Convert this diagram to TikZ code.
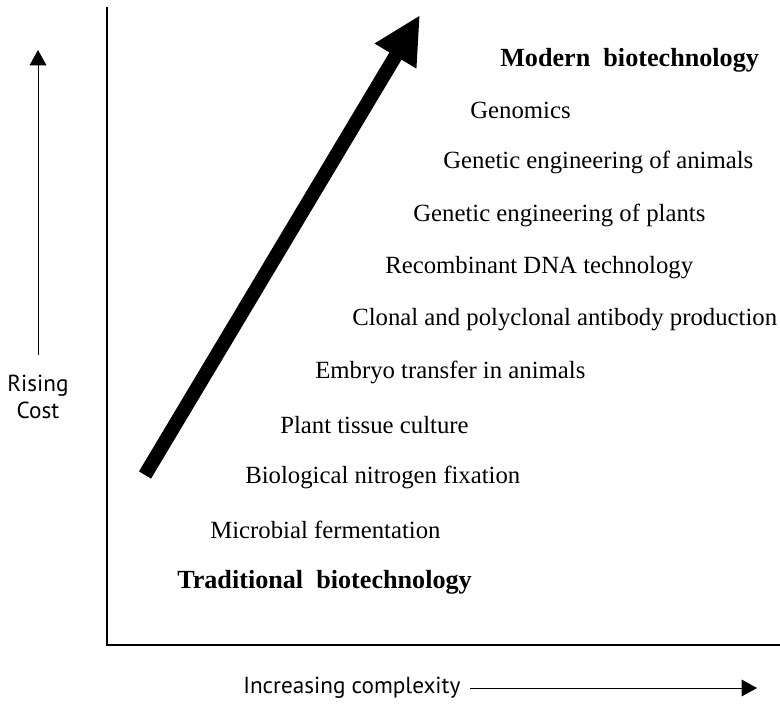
\documentclass[tikz,border=0pt]{standalone}
\usepackage{fontspec}
\setmainfont{Liberation Serif}
\newfontfamily\labelfont{PT Sans}
\usetikzlibrary{arrows.meta, positioning}

\begin{document}
\begin{tikzpicture}[x=0.025cm, y=-0.025cm,
    item/.style={anchor=west, inner sep=0pt, font=\fontsize{17.6}{20}\selectfont},
    heading/.style={item, font=\fontsize{18.6}{21}\selectfont\bfseries},
    axislabel/.style={inner sep=0pt, font=\labelfont\fontsize{16.5}{19}\selectfont, align=center}]
    \useasboundingbox (0,0) rectangle (780,703);

    % Axes of the chart
    \coordinate (top) at (107,7);
    \coordinate (corner) at (107,645);
    \coordinate (right) at (780,645);
    \draw[line width=2pt] (top) -- (corner) -- (right);

    % Cost arrow on the left
    \node[axislabel] (cost) at (38,397) {Rising\\Cost};
    \coordinate (costtip) at (38,50);
    \draw[line width=0.7pt, -{Triangle[length=11pt, width=12pt]}] ([yshift=14pt]cost.north) -- (costtip);

    % Complexity arrow along the bottom
    \node[axislabel, anchor=west] (complex) at (243,688) {Increasing complexity};
    \coordinate (complextip) at (757,688);
    \draw[line width=0.7pt, -{Triangle[length=11pt, width=12pt]}] ([xshift=7pt]complex.east) -- (complextip);

    % The big diagonal trend arrow
    \coordinate (start) at (145,475);
    \coordinate (end) at (420,15);
    \draw[line width=10pt, -{Triangle[length=34pt, width=32pt]}] (start) -- (end);

    % Steps from traditional up to modern biotechnology
    \node[heading] (modern) at (500,60) {Modern\ \ biotechnology};
    \foreach \xpos/\txt [count=\i] in {470/Genomics, 443/Genetic engineering of animals,
        413/Genetic engineering of plants, 385/Recombinant DNA technology,
        352/Clonal and polyclonal antibody production, 315/Embryo transfer in animals,
        280/Plant tissue culture, 245/Biological nitrogen fixation, 210/Microbial fermentation}{
        \node[item] (step\i) at (\xpos,110+52.5*\i-52.5) {\txt};
    }
    \node[heading] (traditional) at (177,582) {Traditional\ \ biotechnology};
\end{tikzpicture}
\end{document}
